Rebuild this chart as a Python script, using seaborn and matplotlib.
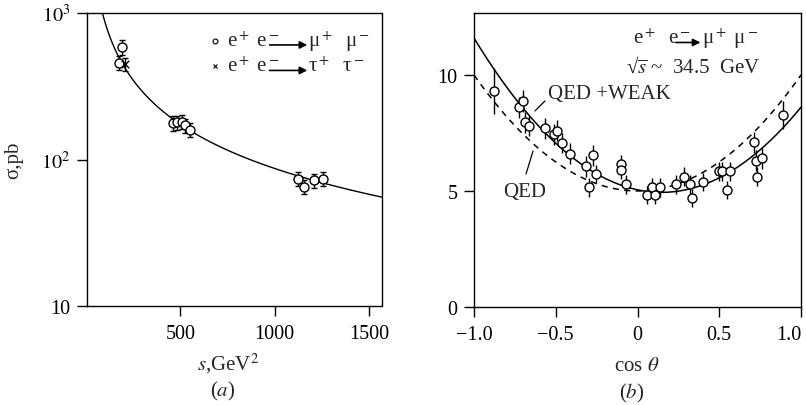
import numpy as np
import matplotlib
matplotlib.use("Agg")
import matplotlib.pyplot as plt
import seaborn as sns

# ---- (a) total cross section vs s ----
mu_s = [193, 176, 461, 482, 509, 527, 553, 1121, 1156, 1209, 1257]
mu_sigma = [585, 457, 177, 179, 181, 171, 160, 74, 65, 72, 74]
mu_err = [65, 50, 20, 20, 20, 19, 18, 8, 7, 8, 8]
tau_s = [207]
tau_sigma = [450]
tau_err = [45]
qed_const = 86800.0  # sigma*s in pb*GeV^2

# ---- (b) angular distribution ----
cos_theta = [-0.880, -0.725, -0.702, -0.688, -0.664, -0.566, -0.509, -0.490,
             -0.460, -0.413, -0.317, -0.299, -0.270, -0.254, -0.103, -0.103,
             -0.072, 0.056, 0.091, 0.107, 0.140, 0.237, 0.286, 0.321, 0.335,
             0.401, 0.496, 0.515, 0.547, 0.564, 0.712, 0.725, 0.729, 0.761,
             0.890]
dsigma = [9.30, 8.61, 8.87, 7.96, 7.80, 7.70, 7.45, 7.59, 7.07, 6.60, 6.07,
          5.16, 6.54, 5.74, 6.17, 5.91, 5.28, 4.82, 5.15, 4.82, 5.15, 5.28,
          5.62, 5.28, 4.69, 5.39, 5.85, 5.85, 5.05, 5.85, 7.10, 6.30, 5.62,
          6.41, 8.26]
dsigma_err = [1.0, 0.45, 0.47, 0.45, 0.45, 0.45, 0.45, 0.45, 0.45, 0.45, 0.45,
              0.40, 0.45, 0.40, 0.40, 0.40, 0.40, 0.40, 0.40, 0.40, 0.40, 0.40,
              0.40, 0.40, 0.40, 0.40, 0.40, 0.40, 0.40, 0.40, 0.45, 0.45, 0.40,
              0.45, 0.60]
qed_a = 5.0                   # QED: a(1 + cos^2)
weak_a, weak_b = 5.05, -1.49  # QED+WEAK: a(1 + cos^2) + b cos

sns.set_style("ticks")
plt.rcParams["font.family"] = ["Liberation Serif", "DejaVu Serif"]
plt.rcParams["mathtext.fontset"] = "stix"
plt.rcParams["axes.linewidth"] = 1.0
plt.rcParams["xtick.major.width"] = 1.0
plt.rcParams["ytick.major.width"] = 1.0

FS = 15
TS = 14.5

fig = plt.figure(figsize=(8.06, 4.06), dpi=100)
axL = fig.add_axes([87 / 806, (406 - 307) / 406, 294.5 / 806, 293 / 406])
axR = fig.add_axes([474 / 806, (406 - 308) / 406, 327 / 806, 294 / 406])

arrow = dict(arrowstyle="-|>", color="black", lw=1.2, mutation_scale=11,
             shrinkA=0, shrinkB=0)

# left panel
s_curve = np.linspace(60, 1570, 400)
sns.lineplot(x=s_curve, y=qed_const / s_curve, color="black", lw=1.0, ax=axL)
axL.errorbar(mu_s, mu_sigma, yerr=mu_err, fmt="none", ecolor="black",
             elinewidth=1.0, capsize=2.5, capthick=1.0, zorder=2)
axL.errorbar(tau_s, tau_sigma, yerr=tau_err, fmt="none", ecolor="black",
             elinewidth=1.0, capsize=2.5, capthick=1.0, zorder=2)
sns.scatterplot(x=mu_s, y=mu_sigma, marker="o", s=42, color="white",
                edgecolor="black", linewidth=1.0, ax=axL, zorder=3)
sns.scatterplot(x=tau_s, y=tau_sigma, marker="x", s=30, color="black",
                linewidth=1.0, ax=axL, zorder=3)
axL.set_yscale("log")
axL.set_xlim(5, 1566)
axL.set_ylim(10, 1000)
axL.set_yticks([10, 100, 1000])
axL.set_yticklabels(["10", "$10^2$", "$10^3$"])
axL.yaxis.set_minor_locator(matplotlib.ticker.NullLocator())
axL.set_xticks([500, 1000, 1500])
axL.set_xticklabels(["500", "1000", "1500"])
axL.tick_params(axis="both", direction="out", length=7, labelsize=TS, pad=5)
axL.tick_params(axis="x", pad=6)
axL.set_ylabel("σ,pb", fontsize=FS)
axL.yaxis.set_label_coords(-0.215, 0.5)
axL.text(0.479, -0.195, "$s$,GeV$^2$", transform=axL.transAxes,
         ha="center", va="center", fontsize=FS)
axL.text(0.46, -0.29, "($a$)", transform=axL.transAxes,
         ha="center", va="center", fontsize=FS)

# legend
axL.plot([0.435], [0.905], marker="o", ms=3.5, mfc="white", mec="black",
         mew=0.8, transform=axL.transAxes)
axL.plot([0.435], [0.818], marker="x", ms=3.5, color="black", mew=0.8,
         transform=axL.transAxes)
for ytxt, particle in [(0.905, "μ"), (0.818, "τ")]:
    axL.text(0.475, ytxt, r"e$^+$ e$^-$", transform=axL.transAxes,
             ha="left", va="center", fontsize=FS)
    axL.annotate("", xy=(0.748, ytxt - 0.014), xytext=(0.62, ytxt - 0.014),
                 xycoords="axes fraction", arrowprops=arrow)
    axL.text(0.752, ytxt, particle + "$^+$  " + particle + "$^-$",
             transform=axL.transAxes, ha="left", va="center", fontsize=FS)

# right panel
c_curve = np.linspace(-1, 1, 300)
sns.lineplot(x=c_curve, y=weak_a * (1 + c_curve ** 2) + weak_b * c_curve,
             color="black", lw=1.1, ax=axR)
sns.lineplot(x=c_curve, y=qed_a * (1 + c_curve ** 2), color="black", lw=1.1,
             ax=axR, linestyle=(0, (4, 3.5)))
axR.errorbar(cos_theta, dsigma, yerr=dsigma_err, fmt="none", ecolor="black",
             elinewidth=1.0, zorder=2)
sns.scatterplot(x=cos_theta, y=dsigma, marker="o", s=42, color="white",
                edgecolor="black", linewidth=1.0, ax=axR, zorder=3)
axR.set_xlim(-1, 1)
axR.set_ylim(0, 12.67)
axR.set_xticks([-1, -0.5, 0, 0.5, 1])
axR.set_xticklabels(["\u22121.0", "\u22120.5", "0", "0.5", "1.0"])
axR.set_yticks([0, 5, 10])
axR.set_yticklabels(["0", "5", "10"])
axR.tick_params(axis="both", direction="out", length=7, labelsize=TS, pad=5)
axR.tick_params(axis="x", pad=6)
axR.get_xticklabels()[-1].set_horizontalalignment("right")
axR.get_xticklabels()[-1].set_x(1.0)
axR.text(0.496, -0.20, r"cos $\theta$", transform=axR.transAxes,
         ha="center", va="center", fontsize=FS)
axR.text(0.482, -0.29, "($b$)", transform=axR.transAxes,
         ha="center", va="center", fontsize=FS)

axR.text(-0.03, 11.6, r"e$^+$  e$^-$", ha="left", va="center", fontsize=FS)
axR.annotate("", xy=(0.385, 11.4), xytext=(0.235, 11.4), arrowprops=arrow)
axR.text(0.392, 11.6, r"μ$^+$ μ$^-$", ha="left", va="center", fontsize=FS)
axR.text(0.755, 10.35, "√$\\overline{s}$ ~  34.5  GeV", ha="right",
         va="center", fontsize=FS)
axR.text(-0.547, 9.2, "QED +WEAK", ha="left", va="center", fontsize=FS)
axR.text(-0.823, 4.96, "QED", ha="left", va="center", fontsize=FS)
axR.plot([-0.627, -0.566], [8.45, 8.88], color="black", lw=0.9)
axR.plot([-0.682, -0.639], [5.73, 6.72], color="black", lw=0.9)

for ax in (axL, axR):
    for sp in ax.spines.values():
        sp.set_visible(True)
        sp.set_color("black")
    ax.tick_params(colors="black")

fig.savefig("out.png", dpi=100)
